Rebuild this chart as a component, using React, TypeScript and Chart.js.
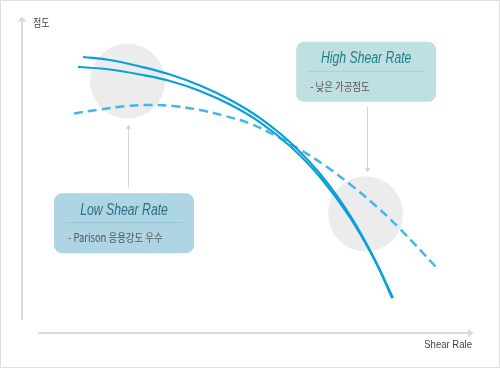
import React, { useEffect, useRef } from "react";
import { Chart, registerables } from "chart.js";

Chart.register(...registerables);

// Shear rate (x, 0-100) vs viscosity (y, 0-100), relative units
const upperX = [13.53, 19.51, 26.16, 32.82, 39.47, 46.12, 52.77, 59.42, 66.08, 72.73, 78.27, 82.26];
const upperY = [87.34, 86.39, 84.34, 81.8, 78.32, 73.8, 68.01, 60.38, 50.38, 37.22, 23.13, 11.08];

const lowerX = [12.42, 19.51, 26.16, 32.82, 39.47, 46.12, 52.77, 59.42, 66.08, 72.73, 78.27, 82.04];
const lowerY = [84.18, 83.39, 81.8, 79.75, 76.58, 72.28, 66.68, 59.18, 49.37, 36.58, 22.88, 11.08];

const dashX = [11.53, 17.29, 22.84, 28.38, 33.92, 39.47, 45.01, 50.55, 56.1, 61.64, 67.18, 72.73, 78.27, 83.81, 91.8];
const dashY = [69.46, 70.73, 71.77, 72.15, 71.77, 70.57, 68.67, 66.3, 62.5, 58.04, 52.97, 47.09, 40.44, 32.97, 20.89];

// highlight zones (x, y)
const zoneX = [23.4, 76.2];
const zoneY = [79.7, 37.7];

const xAxisLabel = "Shear Rale";
const yAxisLabel = "점도";
const boxTitles = ["Low Shear Rate", "High Shear Rate"];
const boxTexts = ["- Parison 응용강도 우수", "- 낮은 가공점도"];

const pts = (xs: number[], ys: number[]) => xs.map((x, i) => ({ x, y: ys[i] }));

const KR = "'Noto Sans CJK KR', 'Noto Sans', sans-serif";
const LAT = "'Liberation Sans', Arial, sans-serif";

export default function App() {
  const ref = useRef<HTMLCanvasElement | null>(null);

  useEffect(() => {
    document.body.style.margin = "0";
    const canvas = ref.current!;
    const zoneR = 37.5;

    const squeezed = (
      ctx: CanvasRenderingContext2D,
      text: string,
      x: number,
      y: number,
      font: string,
      color: string,
      align: CanvasTextAlign,
      sx: number
    ) => {
      ctx.save();
      ctx.translate(x, y);
      ctx.scale(sx, 1);
      ctx.font = font;
      ctx.fillStyle = color;
      ctx.textAlign = align;
      ctx.textBaseline = "middle";
      ctx.fillText(text, 0, 0);
      ctx.restore();
    };

    const decor = {
      id: "decor",
      beforeDatasetsDraw(chart: any) {
        const ctx = chart.ctx as CanvasRenderingContext2D;
        const a = chart.chartArea;
        ctx.save();
        // outer border
        ctx.strokeStyle = "#dedede";
        ctx.lineWidth = 1;
        ctx.strokeRect(0.5, 0.5, chart.width - 1, chart.height - 1);
        // axes
        ctx.fillStyle = "#dadada";
        ctx.fillRect(a.left - 1, a.top + 4, 2, a.bottom - 13 - a.top - 4);
        ctx.beginPath();
        ctx.moveTo(a.left, a.top - 0.5);
        ctx.lineTo(a.left - 4.5, a.top + 4.5);
        ctx.lineTo(a.left + 4.5, a.top + 4.5);
        ctx.closePath();
        ctx.fill();
        ctx.fillRect(a.left + 16, a.bottom - 1, a.right - 5 - a.left - 16, 2);
        ctx.beginPath();
        ctx.moveTo(a.right + 0.5, a.bottom);
        ctx.lineTo(a.right - 5, a.bottom - 4.5);
        ctx.lineTo(a.right - 5, a.bottom + 4.5);
        ctx.closePath();
        ctx.fill();
        ctx.restore();
        // axis labels
        squeezed(ctx, yAxisLabel, a.left + 11, a.top + 6, `11px ${KR}`, "#444", "left", 0.82);
        squeezed(ctx, xAxisLabel, a.right - 1, a.bottom + 12, `11.5px ${LAT}`, "#444", "right", 0.83);
      },
      afterDatasetsDraw(chart: any) {
        const ctx = chart.ctx as CanvasRenderingContext2D;
        const xs = chart.scales.x;
        const ys = chart.scales.y;
        const c0x = xs.getPixelForValue(zoneX[0]);
        const c0y = ys.getPixelForValue(zoneY[0]);
        const c1x = xs.getPixelForValue(zoneX[1]);
        const c1y = ys.getPixelForValue(zoneY[1]);

        const boxes = [
          { left: c0x - 73.5, top: c0y + 112, fill: "#aed5e3", title: "#2e6f86", sep: "#9cc6d4" },
          { left: c1x - 69.5, top: c1y - 172, fill: "#c0dfe0", title: "#1f7f86", sep: "#a9d0d3" },
        ];
        const w = 140;
        const h = 60;

        ctx.save();
        // arrows
        ctx.strokeStyle = "#d4d4d4";
        ctx.fillStyle = "#d4d4d4";
        ctx.lineWidth = 1;
        const ax0 = Math.round(c0x) + 0.5;
        ctx.beginPath();
        ctx.moveTo(ax0, boxes[0].top - 5);
        ctx.lineTo(ax0, c0y + zoneR + 8);
        ctx.stroke();
        ctx.beginPath();
        ctx.moveTo(ax0, c0y + zoneR + 6);
        ctx.lineTo(ax0 - 3, c0y + zoneR + 10);
        ctx.lineTo(ax0 + 3, c0y + zoneR + 10);
        ctx.closePath();
        ctx.fill();
        const ax1 = Math.round(c1x) + 1.5;
        ctx.beginPath();
        ctx.moveTo(ax1, boxes[1].top + h + 5);
        ctx.lineTo(ax1, c1y - zoneR - 6);
        ctx.stroke();
        ctx.beginPath();
        ctx.moveTo(ax1, c1y - zoneR - 4);
        ctx.lineTo(ax1 - 3, c1y - zoneR - 8);
        ctx.lineTo(ax1 + 3, c1y - zoneR - 8);
        ctx.closePath();
        ctx.fill();

        boxes.forEach((b) => {
          ctx.fillStyle = b.fill;
          ctx.beginPath();
          (ctx as any).roundRect(b.left, b.top, w, h, 8);
          ctx.fill();
          ctx.fillStyle = b.sep;
          ctx.fillRect(b.left + 11, b.top + 29, w - 22, 1);
        });
        ctx.restore();
        boxes.forEach((b, i) => {
          squeezed(ctx, boxTitles[i], b.left + w / 2, b.top + 17, `italic 16px ${LAT}`, b.title, "center", 0.765);
          squeezed(ctx, boxTexts[i], b.left + 14, b.top + 44.5, `11.5px ${KR}`, "#555", "left", 0.82);
        });
      },
    };

    const chart = new Chart(canvas, {
      type: "line",
      data: {
        datasets: [
          {
            type: "bubble",
            data: zoneX.map((x, i) => ({ x, y: zoneY[i], r: zoneR })),
            backgroundColor: "#ececec",
            borderWidth: 0,
            clip: false,
            order: 10,
          } as any,
          {
            data: pts(dashX, dashY),
            borderColor: "#45b7e6",
            borderWidth: 2.5,
            borderDash: [9, 5],
            pointRadius: 0,
            tension: 0.4,
            fill: false,
            order: 3,
          },
          {
            data: pts(lowerX, lowerY),
            borderColor: "#0aa0da",
            borderWidth: 2.2,
            pointRadius: 0,
            tension: 0.4,
            fill: false,
            order: 2,
          },
          {
            data: pts(upperX, upperY),
            borderColor: "#0aa0da",
            borderWidth: 2.2,
            pointRadius: 0,
            tension: 0.4,
            fill: false,
            order: 1,
          },
        ],
      },
      options: {
        animation: false,
        responsive: false,
        events: [],
        layout: { autoPadding: false, padding: { left: 22, right: 27, top: 17, bottom: 35 } },
        plugins: { legend: { display: false }, tooltip: { enabled: false } },
        scales: {
          x: { type: "linear", min: 0, max: 100, display: false },
          y: { type: "linear", min: 0, max: 100, display: false },
        },
      },
      plugins: [decor],
    });
    return () => chart.destroy();
  }, []);

  return (
    <div style={{ width: 500, height: 368 }}>
      <canvas ref={ref} width={500} height={368} />
    </div>
  );
}
